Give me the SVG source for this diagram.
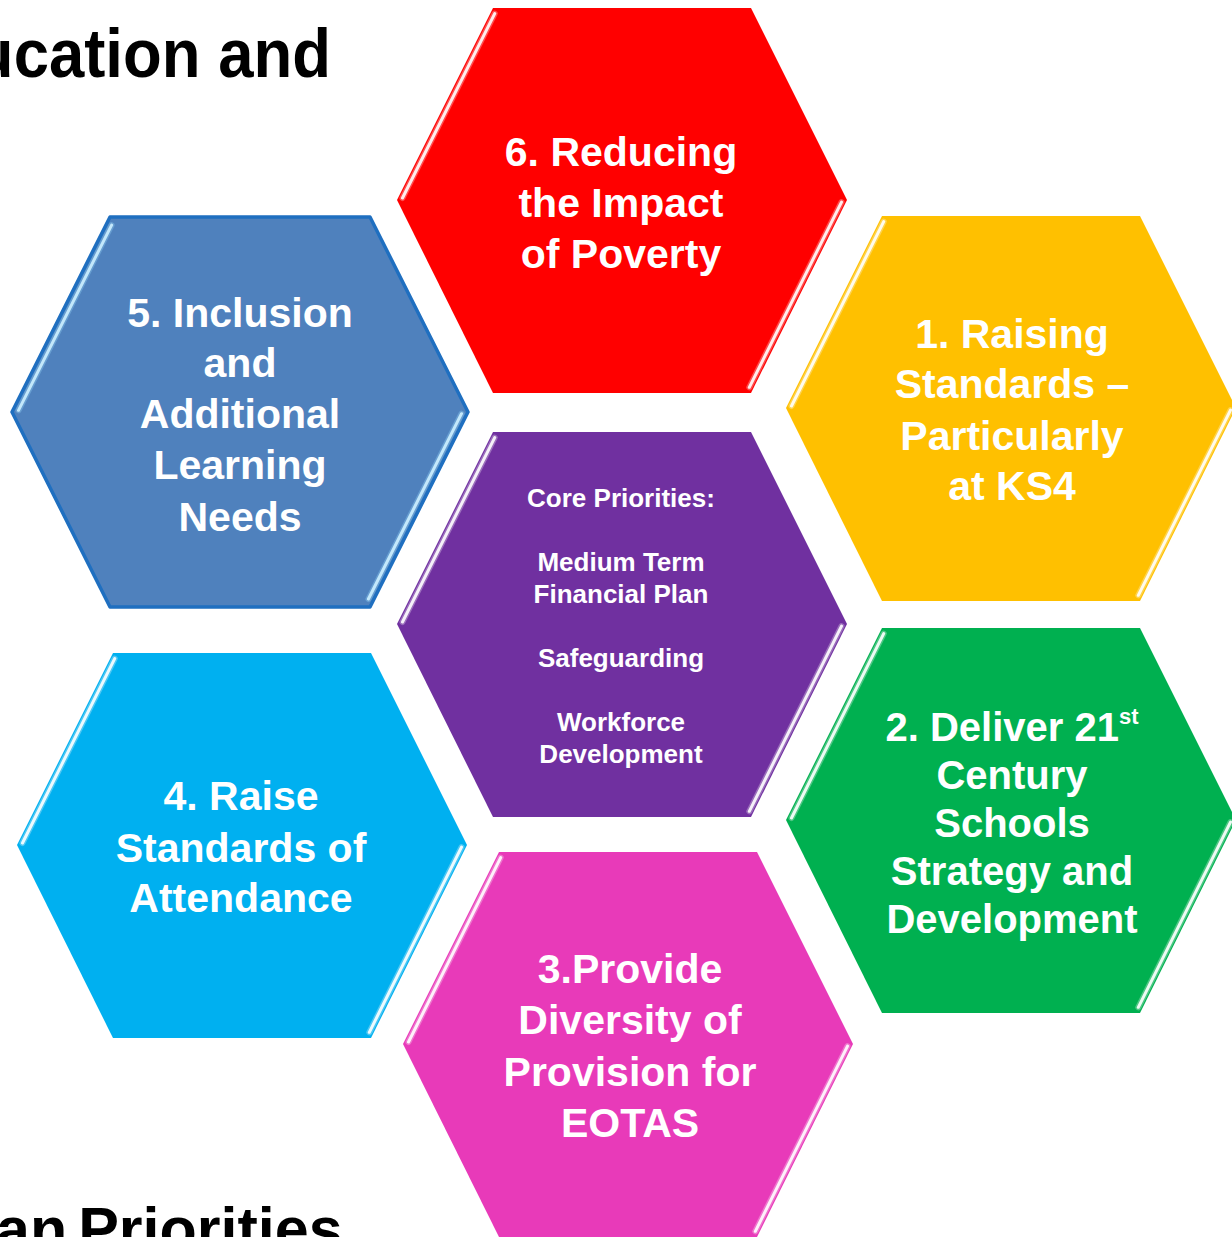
<svg xmlns="http://www.w3.org/2000/svg" xmlns:xlink="http://www.w3.org/1999/xlink" width="1232" height="1237" viewBox="0 0 1232 1237">
<style>
.t{font-family:"Liberation Sans",Arial,sans-serif;font-weight:bold;fill:#fff;text-anchor:middle;font-size:41px}
.s{font-size:26px}
.g{font-size:40px}
.hl{stroke:#fff;stroke-width:3;stroke-linecap:round;fill:none;opacity:.9}
.hlw{stroke:#fff;stroke-width:6;stroke-linecap:round;fill:none;opacity:.3}
.title{font-family:"Liberation Sans",Arial,sans-serif;font-weight:bold;fill:#000}
</style>
<defs>
<polygon id="hex" points="96,0 354,0 450,192 354,385 96,385 0,192"/>
<g id="bev">
<path class="hlw" d="M97.7,5.6 L5.5,190 M444.5,194.1 L352.3,379.3"/>
<path class="hl" d="M97.7,5.6 L5.5,190 M444.5,194.1 L352.3,379.3"/>
</g>
</defs>
<rect width="1232" height="1237" fill="#fff"/>
<text class="title" font-size="69" text-anchor="end" transform="translate(331,77) scale(0.92,1)">ucation and</text>
<text class="title" font-size="61" x="-4" y="1250" word-spacing="-6">an Priorities</text>

<g id="connectors"/>

<g id="node-6">
<use xlink:href="#hex" fill="#FF0000" transform="translate(397,8)"/>
<use xlink:href="#bev" transform="translate(397,8)"/>
<text class="t" x="621" y="166">6. Reducing</text>
<text class="t" x="621" y="217">the Impact</text>
<text class="t" x="621" y="268">of Poverty</text>
</g>

<g id="node-1">
<use xlink:href="#hex" fill="#FFC000" transform="translate(786,216)"/>
<use xlink:href="#bev" transform="translate(786,216)"/>
<text class="t" x="1012" y="348">1. Raising</text>
<text class="t" x="1012" y="398">Standards –</text>
<text class="t" x="1012" y="450">Particularly</text>
<text class="t" x="1012" y="500">at KS4</text>
</g>

<g id="node-5">
<polygon points="110,217 370,217 468,412 370,607 110,607 12,412" fill="#4F81BD" stroke="#1F6FC0" stroke-width="3.5" stroke-linejoin="round"/>
<path class="hlw" d="M111.6,225.1 L18.5,410.3 M461.5,413.7 L368.4,599" style="stroke:#9fe0ff"/>
<path class="hl" d="M111.6,225.1 L18.5,410.3 M461.5,413.7 L368.4,599" style="stroke:#cdf0ff"/>
<text class="t" x="240" y="327">5. Inclusion</text>
<text class="t" x="240" y="377">and</text>
<text class="t" x="240" y="428">Additional</text>
<text class="t" x="240" y="479">Learning</text>
<text class="t" x="240" y="531">Needs</text>
</g>

<g id="node-core">
<use xlink:href="#hex" fill="#7030A0" transform="translate(397,432)"/>
<use xlink:href="#bev" transform="translate(397,432)"/>
<text class="t s" x="621" y="507">Core Priorities:</text>
<text class="t s" x="621" y="571">Medium Term</text>
<text class="t s" x="621" y="603">Financial Plan</text>
<text class="t s" x="621" y="667">Safeguarding</text>
<text class="t s" x="621" y="731">Workforce</text>
<text class="t s" x="621" y="763">Development</text>
</g>

<g id="node-2">
<use xlink:href="#hex" fill="#00B050" transform="translate(786,628)"/>
<use xlink:href="#bev" transform="translate(786,628)"/>
<text class="t g" x="1012" y="741">2. Deliver 21<tspan font-size="22" dy="-17">st</tspan></text>
<text class="t g" x="1012" y="789">Century</text>
<text class="t g" x="1012" y="837">Schools</text>
<text class="t g" x="1012" y="885">Strategy and</text>
<text class="t g" x="1012" y="933">Development</text>
</g>

<g id="node-4">
<use xlink:href="#hex" fill="#00B0F0" transform="translate(17,653)"/>
<use xlink:href="#bev" transform="translate(17,653)"/>
<text class="t" x="241" y="810">4. Raise</text>
<text class="t" x="241" y="862">Standards of</text>
<text class="t" x="241" y="912">Attendance</text>
</g>

<g id="node-3">
<use xlink:href="#hex" fill="#E83AB9" transform="translate(403,852)"/>
<use xlink:href="#bev" transform="translate(403,852)"/>
<text class="t" x="630" y="983">3.Provide</text>
<text class="t" x="630" y="1034">Diversity of</text>
<text class="t" x="630" y="1086">Provision for</text>
<text class="t" x="630" y="1137">EOTAS</text>
</g>
</svg>
